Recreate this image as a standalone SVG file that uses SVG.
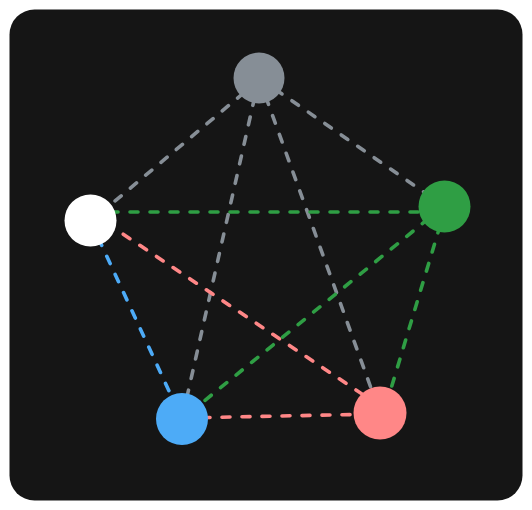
<svg xmlns="http://www.w3.org/2000/svg" width="532" height="510" viewBox="0 0 532 510">
  <style>
    .e { fill: none; stroke-width: 3.6; stroke-linecap: round; stroke-dasharray: 8 12; }
    .gray { stroke: #868e96; }
    .green { stroke: #2f9e44; }
    .blue { stroke: #4dabf7; }
    .pink { stroke: #ff8787; }
  </style>
  <rect x="9.5" y="9.5" width="513" height="491" rx="25" ry="25" fill="#151515"/>
  <g id="connectors">
    <line class="e gray" x1="259" y1="80" x2="90" y2="222"/>
    <line class="e gray" x1="259" y1="78" x2="444" y2="206"/>
    <line class="e gray" x1="259" y1="78" x2="182" y2="419"/>
    <line class="e gray" x1="259" y1="78" x2="380" y2="413"/>
    <line class="e green" x1="90" y1="212" x2="444" y2="212"/>
    <line class="e blue" x1="90" y1="220" x2="182" y2="419"/>
    <line class="e pink" x1="90" y1="212" x2="380" y2="406"/>
    <line class="e green" x1="444" y1="206" x2="182" y2="419"/>
    <line class="e green" x1="446" y1="206" x2="384" y2="412"/>
    <line class="e pink" x1="182" y1="418" x2="380" y2="414"/>
  </g>
  <g id="node-gray"><circle cx="259" cy="78" r="25.5" fill="#868e96"/></g>
  <g id="node-white"><circle cx="90.5" cy="220.5" r="26" fill="#ffffff"/></g>
  <g id="node-green"><circle cx="444.5" cy="206.5" r="26" fill="#2f9e44"/></g>
  <g id="node-blue"><circle cx="182" cy="419" r="26" fill="#4dabf7"/></g>
  <g id="node-pink"><circle cx="380" cy="413" r="26.5" fill="#ff8787"/></g>
</svg>
